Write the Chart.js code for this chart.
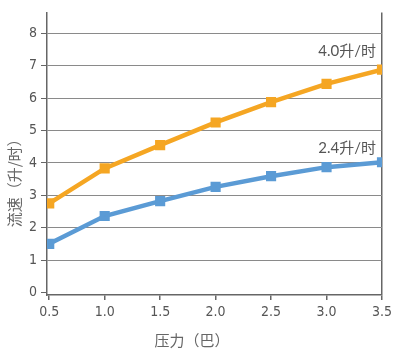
<!DOCTYPE html>
<html>
<head>
<meta charset="utf-8">
<script src="https://cdn.jsdelivr.net/npm/chart.js@4"></script>
<style>
html,body{margin:0;padding:0;background:#fff;}
#wrap{width:411px;height:352px;position:relative;}
</style>
</head>
<body>
<div id="wrap"><canvas id="c" width="411" height="352"></canvas></div>
<script>
const pressures = [0.5, 1.0, 1.5, 2.0, 2.5, 3.0, 3.5];
const flow40 = [2.75, 3.83, 4.55, 5.25, 5.88, 6.44, 6.88];
const flow24 = [1.5, 2.36, 2.82, 3.26, 3.59, 3.87, 4.02];
const xTicks = [0.5, 1.0, 1.5, 2.0, 2.5, 3.0, 3.5];
const yTicks = [0, 1, 2, 3, 4, 5, 6, 7, 8];
const seriesLabels = ['4.0升/时', '2.4升/时'];
const xTitle = '压力（巴）';
const yTitle = '流速（升/时）';

const tickFont = {family: "'Liberation Sans Narrow','DejaVu Sans Condensed',Lato,sans-serif", size: 14};
const textColor = '#555';

const labelPlugin = {
  id: 'labels',
  afterDatasetsDraw(chart) {
    const ctx = chart.ctx;
    const xs = chart.scales.x, ys = chart.scales.y;
    const area = chart.chartArea;
    ctx.save();
    ctx.fillStyle = textColor;
    ctx.font = "15px Lato, 'Noto Sans CJK SC', sans-serif";
    ctx.textAlign = 'right';
    ctx.textBaseline = 'middle';
    const lastX = xs.getPixelForValue(pressures[pressures.length - 1]);
    ctx.fillText(seriesLabels[0], lastX - 6, ys.getPixelForValue(flow40[flow40.length - 1]) - 19);
    ctx.fillText(seriesLabels[1], lastX - 6, ys.getPixelForValue(flow24[flow24.length - 1]) - 14);
    // axis titles
    ctx.fillStyle = '#666';
    ctx.font = "15px 'Noto Sans CJK SC', sans-serif";
    ctx.textAlign = 'center';
    ctx.fillText(xTitle, area.left + 145, 340);
    ctx.translate(14, area.top + 167);
    ctx.rotate(-Math.PI / 2);
    ctx.fillText(yTitle, 0, 0);
    ctx.restore();
  }
};

new Chart(document.getElementById('c'), {
  type: 'line',
  data: {
    datasets: [
      {
        label: seriesLabels[0],
        data: pressures.map((p, i) => ({x: p, y: flow40[i]})),
        borderColor: '#F5A623',
        backgroundColor: '#F5A623',
        borderWidth: 4.5,
        pointStyle: 'rect',
        pointRadius: 4,
        pointHoverRadius: 4,
        tension: 0
      },
      {
        label: seriesLabels[1],
        data: pressures.map((p, i) => ({x: p, y: flow24[i]})),
        borderColor: '#5B9BD5',
        backgroundColor: '#5B9BD5',
        borderWidth: 4.5,
        pointStyle: 'rect',
        pointRadius: 4,
        pointHoverRadius: 4,
        tension: 0
      }
    ]
  },
  options: {
    responsive: false,
    animation: false,
    layout: {padding: {left: 0, right: 29, top: 10, bottom: 0}},
    plugins: {legend: {display: false}, tooltip: {enabled: false}},
    scales: {
      x: {
        type: 'linear',
        min: 0.48,
        max: 3.5,
        afterBuildTicks(s) { s.ticks = xTicks.map(v => ({value: v})); },
        afterFit(s) { s.height = 57; },
        border: {display: true, color: '#666', width: 1.5},
        grid: {
          color: c => (c.tick && c.tick.value === 3.5) ? '#666' : 'rgba(0,0,0,0)',
          tickColor: '#666',
          lineWidth: 1.5,
          tickLength: 5,
          drawOnChartArea: true
        },
        ticks: {
          color: textColor,
          font: tickFont,
          padding: 4,
          maxRotation: 0,
          autoSkip: false,
          callback: v => Number(v).toFixed(1)
        }
      },
      y: {
        type: 'linear',
        min: -0.08,
        max: 8.65,
        afterBuildTicks(s) { s.ticks = yTicks.map(v => ({value: v})); },
        afterFit(s) { s.width = 47; },
        border: {display: true, color: '#666', width: 1.5},
        grid: {
          color: c => (c.tick && c.tick.value === 0) ? 'rgba(0,0,0,0)' : '#8a8a8a',
          tickColor: '#666',
          lineWidth: 1,
          tickLength: 6
        },
        ticks: {
          color: textColor,
          font: tickFont,
          padding: 4,
          autoSkip: false,
          callback: v => String(v)
        }
      }
    }
  },
  plugins: [labelPlugin]
});
</script>
</body>
</html>
